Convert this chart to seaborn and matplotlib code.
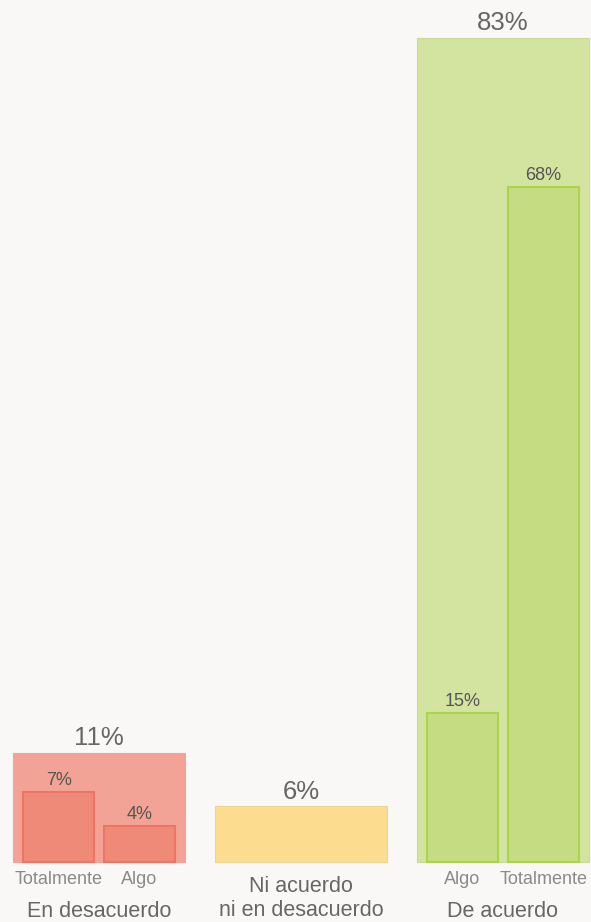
import pandas as pd
import matplotlib.pyplot as plt
import seaborn as sns

# main groups and their totals
groups = ["En desacuerdo", "Ni acuerdo\nni en desacuerdo", "De acuerdo"]
totals = [11, 5.6, 83]
total_labels = ["11%", "6%", "83%"]

# detail bars inside the two outer groups
sub_names_red = ["Totalmente", "Algo"]
sub_values_red = [7.1, 3.6]
sub_labels_red = ["7%", "4%"]
sub_names_green = ["Algo", "Totalmente"]
sub_values_green = [15, 68]
sub_labels_green = ["15%", "68%"]

big_colors = ["#f2a395", "#fcdd90", "#d3e3a0"]
big_edges = ["#f2a395", "#ecd494", "#cadb98"]
sub_fill = {"red": "#f08a78", "green": "#c6dc82"}
sub_edge = {"red": "#ee7564", "green": "#acd44a"}

sns.set_style("white")
plt.rcParams["font.family"] = ["Liberation Sans", "DejaVu Sans"]

bg = "#f9f8f6"
fig = plt.figure(figsize=(5.91, 9.22), dpi=100, facecolor=bg)
ax = fig.add_axes([0, 0, 1, 1])
ax.set_facecolor(bg)

df = pd.DataFrame({"grupo": groups, "total": totals})
sns.barplot(data=df, x="grupo", y="total", hue="grupo", palette=big_colors,
            width=0.855, legend=False, ax=ax, saturation=1)
for patch, ec in zip(ax.patches, big_edges):
    patch.set_edgecolor(ec)
    patch.set_linewidth(0.8)

offsets = [-0.2, 0.2]
sub_w = 0.35
for gi, names, vals, labs, key in [(0, sub_names_red, sub_values_red, sub_labels_red, "red"),
                                   (2, sub_names_green, sub_values_green, sub_labels_green, "green")]:
    xs = [gi + o for o in offsets]
    ax.bar(xs, vals, width=sub_w, color=sub_fill[key], edgecolor=sub_edge[key], linewidth=1.5)
    for x, v, lab, n in zip(xs, vals, labs, names):
        ax.annotate(lab, (x, v), xytext=(0, 2), textcoords="offset points",
                    ha="center", va="bottom", fontsize=13, color="#555555")
        ax.text(x, -1.8, n, ha="center", va="center", fontsize=13, color="#8a8a8a")

for i, (t, lab) in enumerate(zip(totals, total_labels)):
    ax.annotate(lab, (i, t), xytext=(0, 2), textcoords="offset points",
                ha="center", va="bottom", fontsize=18.5, color="#666666")

ax.text(0, -5.0, groups[0], ha="center", va="center", fontsize=15.5, color="#666666")
ax.text(1, -2.45, "Ni acuerdo", ha="center", va="center", fontsize=15.5, color="#666666")
ax.text(1, -4.85, "ni en desacuerdo", ha="center", va="center", fontsize=15.5, color="#666666")
ax.text(2, -5.0, groups[2], ha="center", va="center", fontsize=15.5, color="#666666")

ax.set_xlim(-0.49, 2.436)
ax.set_ylim(-6.04, 86.8)
ax.set_xlabel("")
ax.set_ylabel("")
ax.set_xticks([])
ax.set_yticks([])
sns.despine(ax=ax, left=True, bottom=True)

plt.savefig("out.png", dpi=100, facecolor=bg)
